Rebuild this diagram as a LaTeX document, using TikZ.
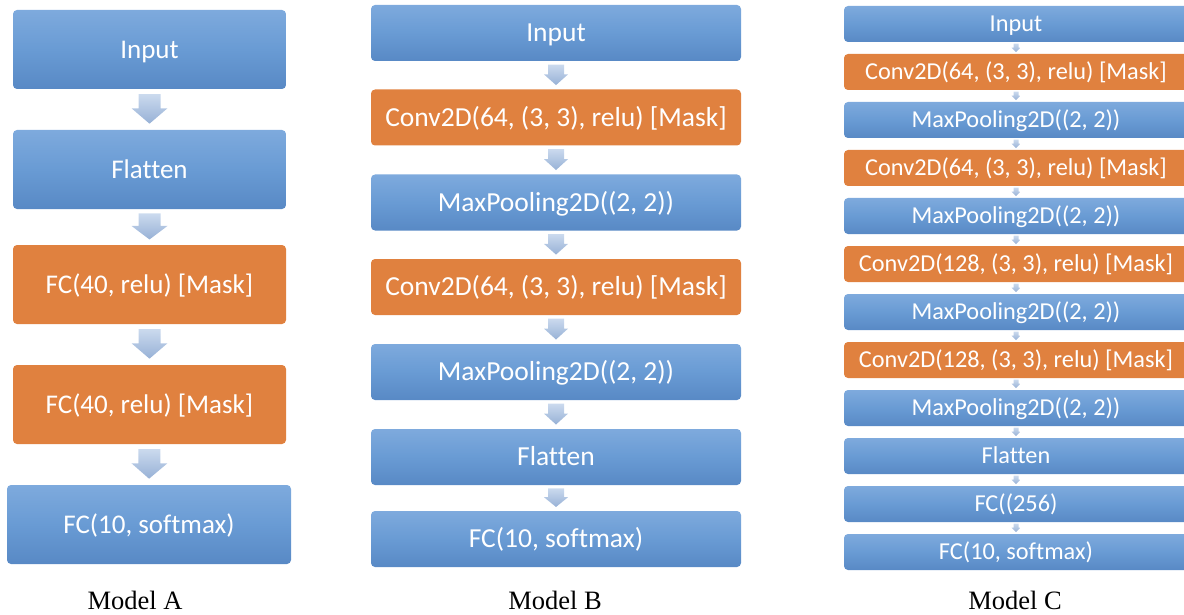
\documentclass[tikz,border=0pt]{standalone}
\usepackage{fontspec}
\setmainfont{Liberation Serif}
\newfontfamily\calib[Ligatures=NoCommon]{Carlito}
\usepackage{tikz}
\usetikzlibrary{calc}
\definecolor{boxtop}{HTML}{7EAADD}
\definecolor{boxmid}{HTML}{699BD4}
\definecolor{boxbot}{HTML}{5889C5}
\definecolor{maskorange}{HTML}{E0813F}
\definecolor{arrtop}{HTML}{CBDAEE}
\definecolor{arrbot}{HTML}{97B1D6}
\tikzset{
  flowarr/.style={top color=arrtop, bottom color=arrbot, draw=none},
}
% block arrow from the bottom of one layer to the top of the next
\newcommand{\flowarrow}[4]{%
  \path[flowarr] let \p1=($(#1.south)!0.12!(#2.north)$),
    \p2=($(#1.south)!0.47!(#2.north)$), \p3=($(#1.south)!0.85!(#2.north)$) in
    (\x1-#3pt,\y1) -- (\x1+#3pt,\y1) -- (\x1+#3pt,\y2) -- (\x1+#4pt,\y2) --
    (\x3,\y3) -- (\x1-#4pt,\y2) -- (\x1-#3pt,\y2) -- cycle;}

\begin{document}
\begin{tikzpicture}[x=1pt,y=1pt,
  layer/.style={rectangle, rounded corners=4pt, inner sep=0pt, text=white},
  dense/.style={layer, top color=boxtop, bottom color=boxbot, middle color=boxmid},
  masked/.style={layer, fill=maskorange},
  modA/.style={minimum width=273pt, minimum height=79pt, text height=20.3pt, text depth=2.9pt,
    font=\calib\fontsize{27}{32}\selectfont},
  modB/.style={minimum width=370pt, minimum height=56pt, text height=20.6pt, text depth=2.9pt,
    font=\calib\fontsize{27.5}{32}\selectfont},
  modC/.style={minimum width=344pt, minimum height=36pt, text height=18.2pt, text depth=2.6pt,
    font=\calib\fontsize{24.3}{28}\selectfont},
  caption/.style={anchor=base, font=\fontsize{26.5}{30}\selectfont}]
  \useasboundingbox (0,0) rectangle (1184,-615);
  \clip (0,0) rectangle (1184,-615);

  % Model A
  \node[dense,modA] (a1) at (149.5,-49.5) {Input};
  \node[dense,modA] (a2) at (149.5,-169.5) {Flatten};
  \node[masked,modA] (a3) at (149.5,-284.5) {FC(40, relu) [Mask]};
  \node[masked,modA] (a4) at (149.5,-404.5) {FC(40, relu) [Mask]};
  \node[dense,modA,minimum width=284pt] (a5) at (149,-524.5) {FC(10, softmax)};
  \foreach \i/\j in {a1/a2,a2/a3,a3/a4,a4/a5} {\flowarrow{\i}{\j}{11}{18}}
  \node[caption] (capA) at (135,-609) {Model A};

  % Model B
  \node[dense,modB] (b1) at (556,-33) {Input};
  \node[masked,modB] (b2) at (556,-117.5) {Conv2D(64, (3, 3), relu) [Mask]};
  \node[dense,modB] (b3) at (556,-202.5) {MaxPooling2D((2, 2))};
  \node[masked,modB] (b4) at (556,-287) {Conv2D(64, (3, 3), relu) [Mask]};
  \node[dense,modB] (b5) at (556,-372) {MaxPooling2D((2, 2))};
  \node[dense,modB] (b6) at (556,-457) {Flatten};
  \node[dense,modB] (b7) at (556,-539) {FC(10, softmax)};
  \foreach \i/\j in {b1/b2,b2/b3,b3/b4,b4/b5,b5/b6,b6/b7} {\flowarrow{\i}{\j}{8}{12}}
  \node[caption] (capB) at (555,-609) {Model B};

  % Model C
  \node[dense,modC] (c1) at (1016,-24) {Input};
  \node[masked,modC] (c2) at (1016,-72) {Conv2D(64, (3, 3), relu) [Mask]};
  \node[dense,modC] (c3) at (1016,-120) {MaxPooling2D((2, 2))};
  \node[masked,modC] (c4) at (1016,-168) {Conv2D(64, (3, 3), relu) [Mask]};
  \node[dense,modC] (c5) at (1016,-216) {MaxPooling2D((2, 2))};
  \node[masked,modC] (c6) at (1016,-264) {Conv2D(128, (3, 3), relu) [Mask]};
  \node[dense,modC] (c7) at (1016,-312) {MaxPooling2D((2, 2))};
  \node[masked,modC] (c8) at (1016,-360) {Conv2D(128, (3, 3), relu) [Mask]};
  \node[dense,modC] (c9) at (1016,-408) {MaxPooling2D((2, 2))};
  \node[dense,modC] (c10) at (1016,-456) {Flatten};
  \node[dense,modC] (c11) at (1016,-504) {FC((256)};
  \node[dense,modC] (c12) at (1016,-552) {FC(10, softmax)};
  \foreach \i [evaluate=\i as \j using int(\i+1)] in {1,...,11} {\flowarrow{c\i}{c\j}{2.5}{4.5}}
  \node[caption] (capC) at (1015,-609) {Model C};
\end{tikzpicture}
\end{document}
